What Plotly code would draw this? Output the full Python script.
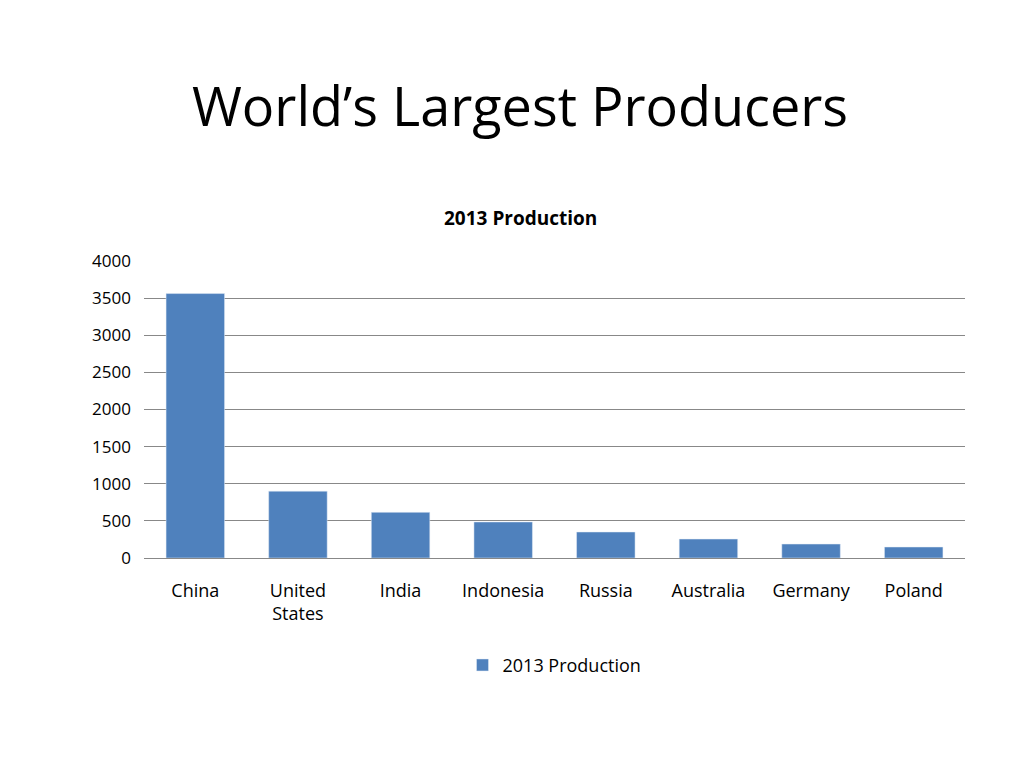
import plotly.graph_objects as go

countries = ['China', 'United<br>States', 'India', 'Indonesia', 'Russia',
             'Australia', 'Germany', 'Poland']
production_2013 = [3560, 900, 615, 485, 350, 255, 188, 148]
y_ticks = [0, 500, 1000, 1500, 2000, 2500, 3000, 3500, 4000]

fig = go.Figure()
fig.add_trace(go.Bar(
    x=countries,
    y=production_2013,
    name='2013 Production',
    marker=dict(color='#4f81bd'),
    showlegend=True
))

fig.update_layout(
    width=1024, height=768,
    paper_bgcolor='white', plot_bgcolor='white',
    font=dict(family='Open Sans, Liberation Sans, sans-serif', size=18, color='#000'),
    margin=dict(l=136, r=67, t=252, b=218),
    bargap=0.43,
    xaxis=dict(showline=True, linecolor='#888', ticks='', tickfont=dict(size=18),
               automargin=False, ticklabelstandoff=16),
    yaxis=dict(range=[0, 4012], tickvals=y_ticks, showgrid=True, gridcolor='#888',
               zeroline=False, tickfont=dict(size=17), ticklen=0,
               automargin=False, ticklabelstandoff=12),
    legend=dict(orientation='h', x=0.5, xanchor='center', y=-0.36, yanchor='middle',
                font=dict(size=18)),
    annotations=[
        dict(text='World’s Largest Producers', xref='paper', yref='paper',
             x=0.5, y=97, yanchor='middle', showarrow=False,
             font=dict(size=54, family='Open Sans, sans-serif')),
        dict(text='<b>2013 Production</b>', xref='paper', yref='paper',
             x=0.5, y=210, yanchor='middle', showarrow=False,
             font=dict(size=19)),
    ]
)
# convert pixel y positions of annotations into paper coords
plot_h = 768 - 252 - 218
for a in fig.layout.annotations:
    a.y = (550 - a.y) / plot_h
    a.x = (512 - 136) / (1024 - 136 - 67)

fig.write_html('out.html')
